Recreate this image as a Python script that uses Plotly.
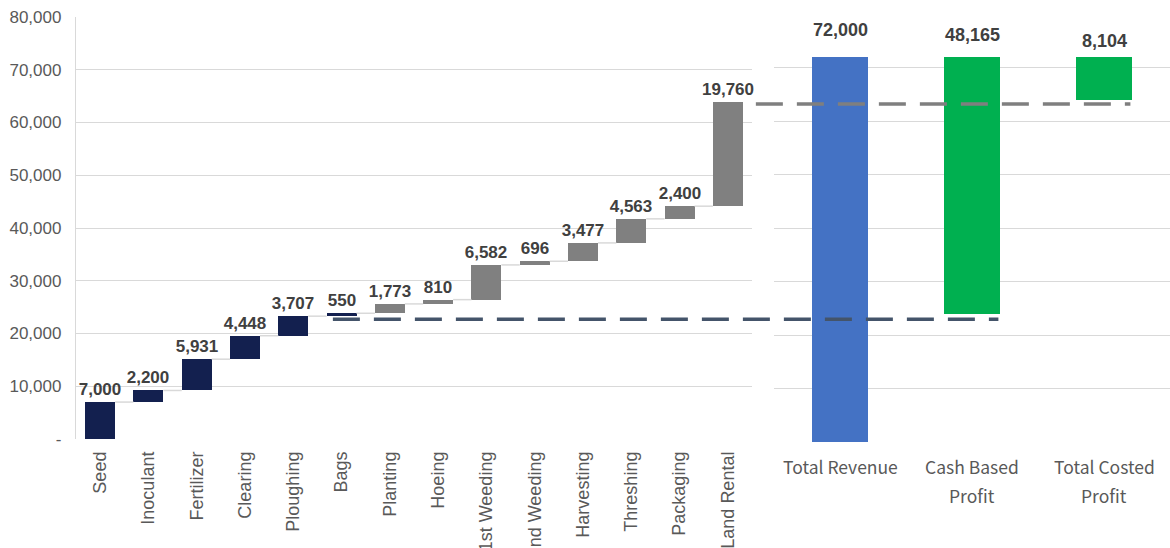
import numpy as np
import plotly.graph_objects as go

# ---------------- data ----------------
categories = ["Seed", "Inoculant", "Fertilizer", "Clearing", "Ploughing", "Bags",
              "Planting", "Hoeing", "1st Weeding", "2nd Weeding", "Harvesting",
              "Threshing", "Packaging", "Land Rental"]
costs = [7000, 2200, 5931, 4448, 3707, 550, 1773, 810, 6582, 696, 3477, 4563, 2400, 19760]
n_cash_items = 6  # Seed..Bags are cash costs

summary_categories = ["Total Revenue", "Cash Based<br>Profit", "Total Costed<br>Profit"]
total_revenue = 72000
cash_profit = 48165
costed_profit = 8104

# reference dashed lines (levels)
cash_cost_line = 22700
total_cost_line = 63500

y_tickvals = [0, 10000, 20000, 30000, 40000, 50000, 60000, 70000, 80000]
y_ticktext = ["-", "10,000", "20,000", "30,000", "40,000", "50,000", "60,000", "70,000", "80,000"]

# ---------------- styles ----------------
NAVY = "#13204f"
GREY = "#808080"
BLUE = "#4472c4"
GREEN = "#00b050"
GRID = "#d9d9d9"
LABEL = "#404040"
TICK = "#595959"

W, H = 1170, 548
ML, MR, MT, MB = 76, 0, 14, 106
left_dom = [0, 676 / 1094]
right_dom = [698 / 1094, 1]
ydom_left = [3 / 428, 425 / 428]

costs_arr = np.array(costs)
bases = np.concatenate([[0], np.cumsum(costs_arr)[:-1]])
tops = bases + costs_arr
xs = np.arange(len(categories))
colors = [NAVY if i < n_cash_items else GREY for i in range(len(categories))]
bw = 0.62

fig = go.Figure()

# connectors
cx, cy = [], []
for i in range(len(categories) - 1):
    cx += [xs[i] + bw / 2, xs[i + 1] - bw / 2, None]
    cy += [tops[i], tops[i], None]
fig.add_trace(go.Scatter(x=cx, y=cy, mode="lines", line=dict(color=GRID, width=1.5),
                         hoverinfo="skip", showlegend=False, xaxis="x", yaxis="y"))

fig.add_trace(go.Bar(
    x=xs, y=costs_arr, base=bases, width=bw,
    marker=dict(color=colors, line=dict(width=0)),
    text=[f"{v:,}" for v in costs], textposition="outside", constraintext="none",
    textfont=dict(family="Liberation Sans", size=17, color=LABEL, weight="bold"),
    cliponaxis=False, showlegend=False, xaxis="x", yaxis="y"))

# summary panel
s_vals = [total_revenue, cash_profit, costed_profit]
s_bases = [0, total_revenue - cash_profit, total_revenue - costed_profit]
fig.add_trace(go.Bar(
    x=list(range(3)), y=s_vals, base=s_bases, width=0.42,
    marker=dict(color=[BLUE, GREEN, GREEN], line=dict(width=0)),
    showlegend=False, xaxis="x2", yaxis="y2"))

label_shifts = [27, 22, 16]
for i, v in enumerate(s_vals):
    fig.add_annotation(x=i, y=s_bases[i] + s_vals[i], xref="x2", yref="y2",
                       text=f"{v:,}", showarrow=False, yshift=label_shifts[i],
                       font=dict(family="Liberation Sans", size=18, color=LABEL, weight="bold"))

# summary category labels (custom line spacing)
line_offsets = [-24, -53]
for i, lab in enumerate(summary_categories):
    for j, part in enumerate(lab.split("<br>")):
        fig.add_annotation(x=i, y=0, xref="x2", yref="paper", text=part,
                           showarrow=False, yshift=line_offsets[j], yanchor="middle",
                           font=dict(family="Noto Sans CJK JP", size=17.5, color=TICK))

def left_frac(i):
    return left_dom[0] + (i + 0.5) / len(categories) * (left_dom[1] - left_dom[0])

def right_frac(i):
    return right_dom[0] + (i + 0.5) / 3 * (right_dom[1] - right_dom[0])

dash = "27px,14px"
fig.add_shape(type="line", xref="paper", yref="y",
              x0=left_frac(5 - 0.18), x1=right_frac(1 + 0.2),
              y0=cash_cost_line, y1=cash_cost_line,
              line=dict(color="#44546a", width=3.5, dash=dash))
fig.add_shape(type="line", xref="paper", yref="y",
              x0=left_frac(13 + 0.58), x1=right_frac(2 + 0.2),
              y0=total_cost_line, y1=total_cost_line,
              line=dict(color="#7f7f7f", width=3.5, dash=dash))

fig.update_layout(
    width=W, height=H, margin=dict(l=ML, r=MR, t=MT, b=MB, autoexpand=False),
    paper_bgcolor="white", plot_bgcolor="white", bargap=0,
    xaxis=dict(domain=left_dom, range=[-0.5, len(categories) - 0.5],
               tickvals=xs, ticktext=categories, tickangle=-90,
               tickfont=dict(family="Liberation Sans", size=18, color=TICK),
               showgrid=False, zeroline=False, showline=False, ticks="",
               ticklabelstandoff=8, anchor="y", automargin=False),
    yaxis=dict(domain=ydom_left, range=[0, 80000], tickvals=y_tickvals, ticktext=y_ticktext,
               tickfont=dict(family="Liberation Sans", size=17, color=TICK),
               showgrid=True, gridcolor=GRID, gridwidth=1.3, zeroline=False,
               showline=True, linecolor=GRID, linewidth=1.3, ticks="",
               ticklabelstandoff=10, anchor="x", automargin=False),
    xaxis2=dict(domain=right_dom, range=[-0.5, 2.5], tickvals=[0, 1, 2],
                showticklabels=False, automargin=False,
                showgrid=False, zeroline=False, showline=False, ticks="", anchor="y2"),
    yaxis2=dict(domain=[0, 1], range=[0, 80000], tickvals=y_tickvals,
                showticklabels=False, showgrid=True, gridcolor=GRID, gridwidth=1.3,
                zeroline=False, showline=False, ticks="", anchor="x2", automargin=False),
)

fig.write_html("out.html")
